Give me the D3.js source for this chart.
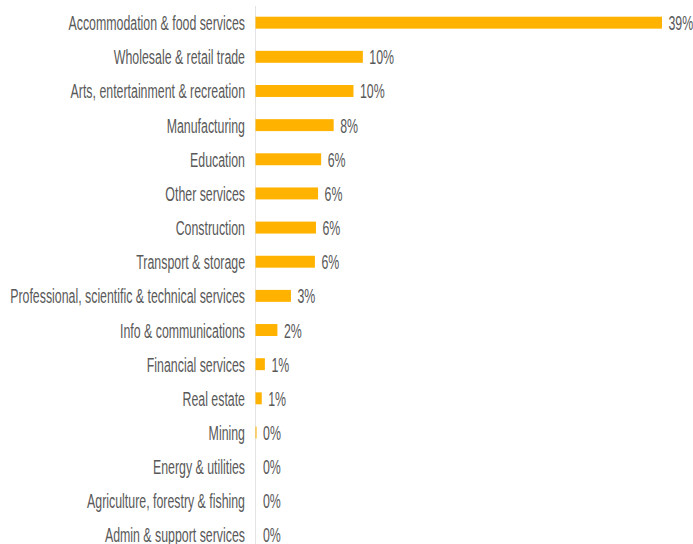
<!DOCTYPE html>
<html>
<head>
<meta charset="utf-8">
<script src="https://cdn.jsdelivr.net/npm/d3@7"></script>
<style>
  html, body { margin: 0; padding: 0; background: #fff; }
  svg text { font-family: "Liberation Sans", Arial, sans-serif; fill: #595959; font-size: 21px; }
</style>
</head>
<body>
<svg id="chart" width="693" height="544"></svg>
<script>
const sectors = [
  'Accommodation & food services',
  'Wholesale & retail trade',
  'Arts, entertainment & recreation',
  'Manufacturing',
  'Education',
  'Other services',
  'Construction',
  'Transport & storage',
  'Professional, scientific & technical services',
  'Info & communications',
  'Financial services',
  'Real estate',
  'Mining',
  'Energy & utilities',
  'Agriculture, forestry & fishing',
  'Admin & support services'
];

// share of businesses, in percent (bar lengths)
const shares = [39, 10.3, 9.4, 7.5, 6.3, 6.0, 5.8, 5.7, 3.4, 2.1, 0.9, 0.6, 0.1, 0, 0, 0];

// labels as printed on the chart
const shareLabels = ['39%', '10%', '10%', '8%', '6%', '6%', '6%', '6%', '3%', '2%', '1%', '1%', '0%', '0%', '0%', '0%'];

const svg = d3.select('#chart');
const axisX = 255.5;

const x = d3.scaleLinear().domain([0, 39]).range([axisX, 662]);
const y = d3.scaleBand()
  .domain(sectors)
  .range([5.6, 552])
  .paddingInner(0.65)
  .paddingOuter(0.325);

// the text in the chart is a narrow face; squeeze a regular one to fit
const probe = svg.append('text').text(sectors[8]);
const squeeze = 235 / probe.node().getComputedTextLength();
probe.remove();

function rowMid(d) {
  return y(d) + y.bandwidth() / 2;
}

svg.append('line')
  .attr('x1', axisX).attr('x2', axisX)
  .attr('y1', 6).attr('y2', 544)
  .attr('stroke', '#e3e3e3')
  .attr('stroke-width', 1);

svg.append('g')
  .selectAll('rect')
  .data(sectors)
  .enter()
  .append('rect')
  .attr('x', axisX)
  .attr('y', function (d) { return y(d); })
  .attr('width', function (d, i) { return x(shares[i]) - x(0); })
  .attr('height', y.bandwidth())
  .attr('fill', '#ffb300');

svg.append('g')
  .selectAll('text')
  .data(sectors)
  .enter()
  .append('text')
  .attr('transform', function (d) {
    return 'translate(245,' + (rowMid(d) + 7.5) + ') scale(' + squeeze + ',1)';
  })
  .attr('text-anchor', 'end')
  .text(function (d) { return d; });

svg.append('g')
  .selectAll('text')
  .data(sectors)
  .enter()
  .append('text')
  .attr('transform', function (d, i) {
    const lx = Math.max(x(shares[i]), axisX + 1) + 6.5;
    return 'translate(' + lx + ',' + (rowMid(d) + 7.5) + ') scale(' + squeeze + ',1)';
  })
  .text(function (d, i) { return shareLabels[i]; });
</script>
</body>
</html>
